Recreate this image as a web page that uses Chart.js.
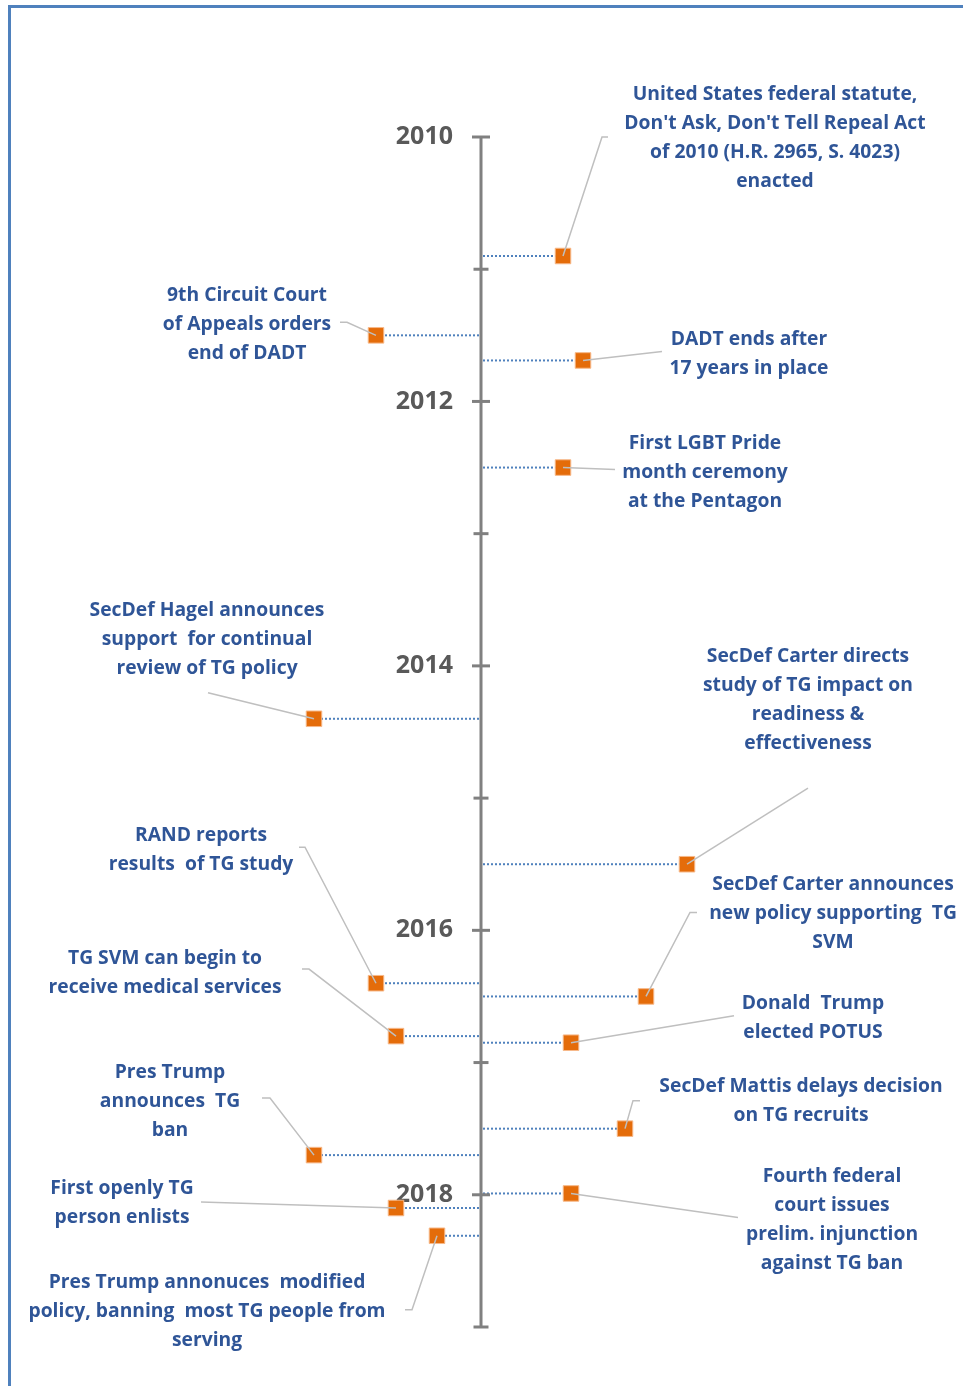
<!DOCTYPE html>
<html>
<head>
<meta charset="utf-8">
<title>TG military policy timeline</title>
<script src="https://cdn.jsdelivr.net/npm/chart.js@4/dist/chart.umd.min.js"></script>
<style>
    body { margin: 0; background: #fff; }
    #wrap { position: relative; width: 963px; height: 1386px; }
    #frame {
        position: absolute; left: 8px; top: 5px; right: 0; bottom: 0;
        border-top: 3px solid #4f81bd; border-left: 3px solid #4f81bd;
        pointer-events: none;
    }
</style>
</head>
<body>
<div id="wrap">
    <canvas id="timelineChart"></canvas>
    <div id="frame"></div>
</div>
<script>
// event dates (decimal years) and horizontal stem offsets
const eventDates = [2010.90, 2011.50, 2011.69, 2012.50, 2014.40, 2015.50, 2016.40, 2016.50,
    2016.80, 2016.85, 2017.50, 2017.70, 2017.99, 2018.10, 2018.31];
const eventOffsets = [0.82, -1.05, 1.02, 0.82, -1.67, 2.06, -1.05, 1.65,
    -0.85, 0.90, 1.44, -1.67, 0.90, -0.85, -0.44];
const eventLabels = [
    ['United States federal statute,', "Don't Ask, Don't Tell Repeal Act", 'of 2010 (H.R. 2965, S. 4023)', 'enacted'],
    ['9th Circuit Court', 'of Appeals orders', 'end of DADT'],
    ['DADT ends after', '17 years in place'],
    ['First LGBT Pride', 'month ceremony', 'at the Pentagon'],
    ['SecDef Hagel announces', 'support  for continual', 'review of TG policy'],
    ['SecDef Carter directs', 'study of TG impact on', 'readiness &', 'effectiveness'],
    ['RAND reports', 'results  of TG study'],
    ['SecDef Carter announces', 'new policy supporting  TG', 'SVM'],
    ['TG SVM can begin to', 'receive medical services'],
    ['Donald  Trump', 'elected POTUS'],
    ['SecDef Mattis delays decision', 'on TG recruits'],
    ['Pres Trump', 'announces  TG', 'ban'],
    ['Fourth federal', 'court issues', 'prelim. injunction', 'against TG ban'],
    ['First openly TG', 'person enlists'],
    ['Pres Trump annonuces  modified', 'policy, banning  most TG people from', 'serving']
];
const yearTicks = [2010, 2011, 2012, 2013, 2014, 2015, 2016, 2017, 2018, 2019];
const yearLabels = ['2010', '2012', '2014', '2016', '2018'];

// callout placement relative to each marker: text centre x, first line y, leader end, tail
const callouts = [
    { tx: 212, ty: -162, lx: 39, ly: -119, tail: 6 },
    { tx: -129, ty: -41, lx: -29, ly: -13, tail: -7 },
    { tx: 166, ty: -22, lx: 79, ly: -9, tail: 0 },
    { tx: 142, ty: -25, lx: 52, ly: 2, tail: 0 },
    { tx: -107, ty: -109, lx: -106, ly: -26, tail: 0 },
    { tx: 121, ty: -209, lx: 121, ly: -76, tail: 0 },
    { tx: -175, ty: -149, lx: -71, ly: -136, tail: -6 },
    { tx: 187, ty: -113, lx: 44, ly: -84, tail: 7 },
    { tx: -231, ty: -79, lx: -87, ly: -67, tail: -7 },
    { tx: 242, ty: -40, lx: 163, ly: -27, tail: 0 },
    { tx: 176, ty: -43, lx: 8, ly: -28, tail: 7 },
    { tx: -144, ty: -84, lx: -44, ly: -57, tail: -8 },
    { tx: 261, ty: -18, lx: 167, ly: 24, tail: 0 },
    { tx: -274, ty: -20, lx: -195, ly: -6, tail: 0 },
    { tx: -230, ty: 46, lx: -25, ly: 74, tail: -7 }
];

const points = eventDates.map((d, i) => ({ x: eventOffsets[i], y: d }));

const timelinePlugin = {
    id: 'timeline',
    beforeDatasetsDraw(chart) {
        const ctx = chart.ctx;
        const xs = chart.scales.x;
        const ys = chart.scales.y;
        const ax = xs.getPixelForValue(0);
        const top = ys.getPixelForValue(yearTicks[0]);
        const bottom = ys.getPixelForValue(yearTicks[yearTicks.length - 1]);

        ctx.save();
        // stems (dotted) from axis to marker
        ctx.strokeStyle = '#4f81bd';
        ctx.lineWidth = 2;
        ctx.setLineDash([2, 2]);
        points.forEach(p => {
            const px = xs.getPixelForValue(p.x);
            const py = ys.getPixelForValue(p.y);
            ctx.beginPath();
            ctx.moveTo(ax + (p.x > 0 ? 2 : -2), py);
            ctx.lineTo(px, py);
            ctx.stroke();
        });
        ctx.setLineDash([]);

        // main axis
        ctx.strokeStyle = '#808080';
        ctx.lineWidth = 3;
        ctx.beginPath();
        ctx.moveTo(ax, top);
        ctx.lineTo(ax, bottom);
        ctx.stroke();

        ctx.font = 'bold 25px "Open Sans", "DejaVu Sans", sans-serif';
        ctx.fillStyle = '#595959';
        ctx.textAlign = 'right';
        ctx.textBaseline = 'middle';
        yearTicks.forEach(yr => {
            const py = ys.getPixelForValue(yr);
            const major = yearLabels.includes(String(yr));
            const half = major ? 9 : 7.5;
            ctx.beginPath();
            ctx.moveTo(ax - half, py);
            ctx.lineTo(ax + half, py);
            ctx.stroke();
            if (major) ctx.fillText(String(yr), ax - 28, py);
        });
        ctx.restore();
    },
    afterDatasetsDraw(chart) {
        const ctx = chart.ctx;
        const xs = chart.scales.x;
        const ys = chart.scales.y;
        ctx.save();
        points.forEach((p, i) => {
            const px = xs.getPixelForValue(p.x);
            const py = ys.getPixelForValue(p.y);
            const c = callouts[i];
            // leader line
            ctx.strokeStyle = '#bfbfbf';
            ctx.lineWidth = 1.5;
            ctx.beginPath();
            ctx.moveTo(px, py);
            ctx.lineTo(px + c.lx, py + c.ly);
            if (c.tail) ctx.lineTo(px + c.lx + c.tail, py + c.ly);
            ctx.stroke();
            // label text
            ctx.font = 'bold 19.3px "Open Sans", "DejaVu Sans", sans-serif';
            ctx.fillStyle = '#2f5597';
            ctx.textAlign = 'center';
            ctx.textBaseline = 'middle';
            eventLabels[i].forEach((line, k) => {
                ctx.fillText(line, px + c.tx, py + c.ty + 1 + k * 29);
            });
        });
        ctx.restore();
    }
};

const ctx = document.getElementById('timelineChart').getContext('2d');
const chart = new Chart(ctx, {
    type: 'scatter',
    data: {
        datasets: [{
            label: 'Events',
            data: points,
            pointStyle: 'rect',
            pointRadius: 11,
            pointHoverRadius: 11,
            backgroundColor: '#e46c0a',
            borderColor: '#f7b98a',
            borderWidth: 1,
            clip: false
        }]
    },
    options: {
        responsive: true,
        maintainAspectRatio: false,
        animation: false,
        layout: {
            autoPadding: false,
            padding: { top: 137, bottom: 59, left: 0, right: 0 }
        },
        scales: {
            x: { type: 'linear', min: -4.81, max: 4.82, display: false },
            y: { type: 'linear', reverse: true, min: 2010, max: 2019, display: false }
        },
        plugins: {
            legend: { display: false },
            tooltip: { enabled: false }
        }
    },
    plugins: [timelinePlugin]
});
</script>
</body>
</html>
